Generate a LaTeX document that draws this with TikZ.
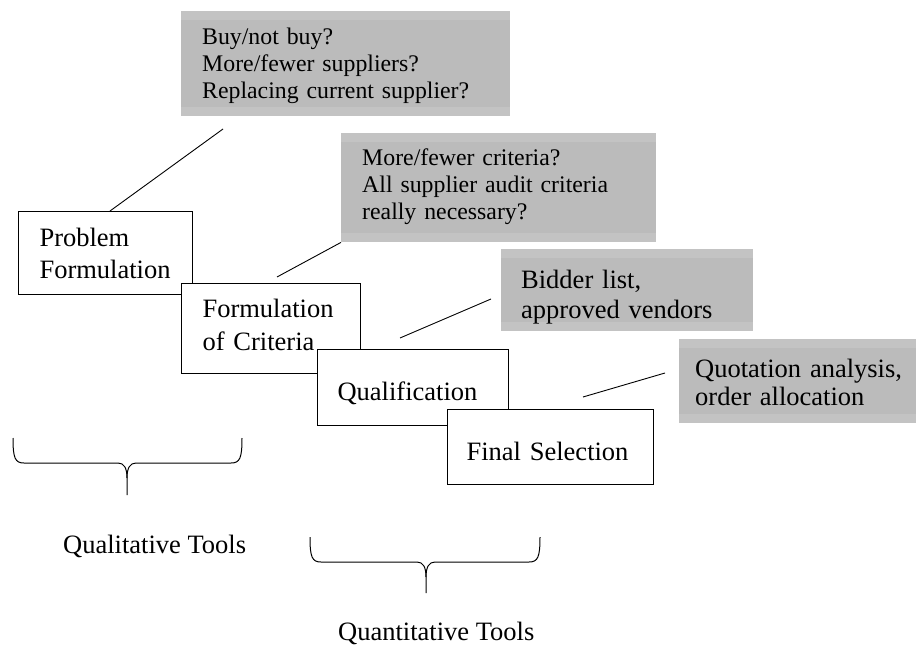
\documentclass[tikz,border=0pt]{standalone}
\usepackage{fontspec}
\setmainfont{Liberation Serif}
\hyphenpenalty=10000
\exhyphenpenalty=10000
\definecolor{boxgray}{RGB}{187,187,187}
\definecolor{bandgray}{RGB}{195,195,195}
\tikzset{
  stagebox/.style={draw=black, line width=1.1pt, fill=white, anchor=north west,
    inner ysep=0pt, align=left, font=\fontsize{26.5}{32}\selectfont},
  notebox/.style={fill=boxgray, anchor=north west, inner ysep=0pt, align=left,
    path picture={
      \fill[bandgray] (path picture bounding box.north west) rectangle ([yshift=-9pt]path picture bounding box.north east);
      \fill[bandgray] (path picture bounding box.south west) rectangle ([yshift=9pt]path picture bounding box.south east);}},
  smallnote/.style={notebox, font=\fontsize{23.8}{27.3}\selectfont},
  bignote/.style={notebox, font=\fontsize{26.5}{29}\selectfont},
  leader/.style={draw=black, line width=0.9pt},
  bracestyle/.style={draw=black, line width=1pt},
  toollabel/.style={anchor=base west, inner sep=0pt, font=\fontsize{26.5}{32}\selectfont}
}
\begin{document}
\begin{tikzpicture}[x=1pt, y=-1pt]
\path[use as bounding box] (0,0) rectangle (916,650);

% grey note boxes
\node[smallnote, inner xsep=21pt, text width=287pt, text height=33pt, text depth=72pt]
  (G1) at (181,11) {Buy/not buy?\\More/fewer suppliers?\\Replacing current supplier?};
\node[smallnote, inner xsep=21pt, text width=273pt, text height=32pt, text depth=77pt]
  (G2) at (341,133) {More/fewer criteria?\\All supplier audit criteria\\really necessary?};
\node[bignote, inner xsep=20pt, text width=212pt, text height=39pt, text depth=43pt, font=\fontsize{26.5}{30}\selectfont]
  (G3) at (501,249) {Bidder list,\\approved vendors};
\node[bignote, inner xsep=16pt, text width=205pt, text height=38pt, text depth=46pt, font=\fontsize{26.5}{28}\selectfont]
  (G4) at (679,339) {\mbox{Quotation analysis,}\\\mbox{order allocation}};

% stage boxes
\node[stagebox, inner xsep=21pt, text width=132pt, text height=35pt, text depth=48pt]
  (P) at (18,211) {Problem\\Formulation};
\node[stagebox, inner xsep=21pt, text width=137pt, text height=34pt, text depth=56pt, font=\fontsize{26.5}{33}\selectfont]
  (F) at (181,283) {Formulation\\of Criteria};
\node[stagebox, inner xsep=20pt, text width=151pt, text height=51pt, text depth=25pt]
  (Q) at (317,349) {Qualification};
\node[stagebox, inner xsep=19pt, text width=168pt, text height=51pt, text depth=24pt]
  (S) at (447,409) {Final Selection};

% leader lines
\coordinate (l1a) at (223,129);
\coordinate (l2b) at (277,277);
\coordinate (l3a) at (491,299);
\coordinate (l3b) at (400,338);
\coordinate (l4a) at (665,373);
\coordinate (l4b) at (583,397);
\draw[leader] (l1a) -- ([xshift=92pt]P.north west);
\draw[leader] (G2.south west) -- (l2b);
\draw[leader] (l3a) -- (l3b);
\draw[leader] (l4a) -- (l4b);

% braces
\draw[bracestyle] (13,438) .. controls (13,458) and (15,463) .. (24,463) -- (118,463)
  .. controls (124,463) and (127,468) .. (127,478) -- (127,495);
\draw[bracestyle] (242,438) .. controls (242,458) and (240,463) .. (231,463) -- (136,463)
  .. controls (130,463) and (127,468) .. (127,478);
\draw[bracestyle] (310,537) .. controls (310,557) and (312,562) .. (321,562) -- (417,562)
  .. controls (423,562) and (426,567) .. (426,577) -- (426,593);
\draw[bracestyle] (540,537) .. controls (540,557) and (538,562) .. (529,562) -- (435,562)
  .. controls (429,562) and (426,567) .. (426,577);

\node[toollabel] (QL) at (63,553) {Qualitative Tools};
\node[toollabel] (QN) at (338,640) {Quantitative Tools};
\end{tikzpicture}
\end{document}
